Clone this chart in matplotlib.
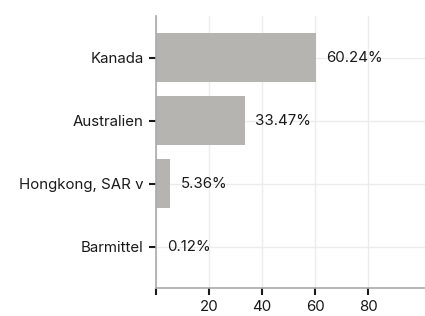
import matplotlib
matplotlib.use("Agg")
from matplotlib import pyplot as plt

categories = ["Kanada", "Australien", "Hongkong, SAR v", "Barmittel"]
values = [60.24, 33.47, 5.36, 0.12]
labels = ["60.24%", "33.47%", "5.36%", "0.12%"]
xticks = [0, 20, 40, 60, 80]
xtick_labels = ["", "20", "40", "60", "80"]

plt.rcParams['font.family'] = ['Inter', 'DejaVu Sans']

fig = plt.figure(figsize=(4.25, 3.16), dpi=100)
ax = fig.add_axes([0.367, 0.089, 0.633, 0.861])

ax.barh(range(len(categories)), values, height=0.78, color="#b5b4b0", zorder=2)
for i, v in enumerate(values):
    ax.annotate(labels[i], (v, i), xytext=(7.5, 0), textcoords="offset points",
                va="center", ha="left", fontsize=10.8, color="#1a1a1a")

ax.set_xlim(0, 101.3)
ax.set_ylim(3.65, -0.667)
ax.set_yticks(range(len(categories)))
ax.set_yticklabels(categories, fontsize=10.8)
ax.set_xticks(xticks)
ax.set_xticklabels(xtick_labels, fontsize=10.8)

ax.grid(True, color="#ececec", linewidth=1, zorder=0)
ax.set_axisbelow(True)
for s in ["top", "right"]:
    ax.spines[s].set_visible(False)
for s in ["left", "bottom"]:
    ax.spines[s].set_color("#aaaaaa")
    ax.spines[s].set_linewidth(1.2)
ax.tick_params(axis="both", length=5, width=1.5, color="#1a1a1a", labelcolor="#1a1a1a", pad=4)

fig.savefig("out.png", dpi=100)
